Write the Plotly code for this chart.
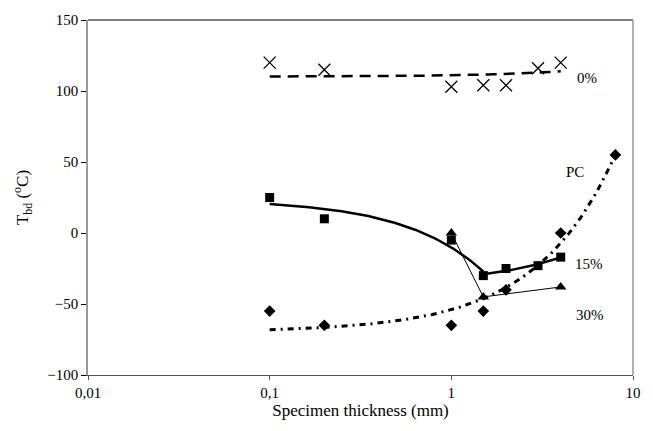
import numpy as np
import plotly.graph_objects as go

# ---- data ----
x_0 = [0.1, 0.2, 1, 1.5, 2, 3, 4]
y_0 = [120, 115, 103, 104, 104, 116, 120]

x_15 = [0.1, 0.2, 1, 1.5, 2, 3, 4]
y_15 = [25, 10, -5, -30, -25, -23, -17]

x_30 = [1, 1.5, 4]
y_30 = [0, -45, -38]

x_pc = [0.1, 0.2, 1, 1.5, 2, 4, 8]
y_pc = [-55, -65, -65, -55, -40, 0, 55]

x_ticks = [0.01, 0.1, 1, 10]
x_ticktext = ["0,01", "0,1", "1", "10"]
y_ticks = [-100, -50, 0, 50, 100, 150]

labels = ["0%", "PC", "15%", "30%"]

FONT = "Liberation Serif"


def linear_trend(xs, ys, lo, hi):
    xs = np.asarray(xs, float)
    ys = np.asarray(ys, float)
    b, a = np.polyfit(xs, ys, 1)
    grid = np.logspace(np.log10(lo), np.log10(hi), 120)
    return grid, a + b * grid


fig = go.Figure()

# 0% trendline (linear fit)
gx, gy = linear_trend(x_0, y_0, min(x_0), max(x_0))
fig.add_trace(go.Scatter(x=gx, y=gy, mode="lines",
                         line=dict(color="black", width=2.5, dash="11px,7px"),
                         showlegend=False, hoverinfo="skip"))

# 15% trendlines (two linear fits)
gx, gy = linear_trend(x_15[:4], y_15[:4], x_15[0], x_15[3])
fig.add_trace(go.Scatter(x=gx, y=gy, mode="lines",
                         line=dict(color="black", width=2.5),
                         showlegend=False, hoverinfo="skip"))
gx, gy = linear_trend(x_15[3:], y_15[3:], x_15[3], x_15[-1])
fig.add_trace(go.Scatter(x=gx, y=gy, mode="lines",
                         line=dict(color="black", width=2.5),
                         showlegend=False, hoverinfo="skip"))

# PC trendline (linear fit)
gx, gy = linear_trend(x_pc, y_pc, min(x_pc), max(x_pc))
fig.add_trace(go.Scatter(x=gx, y=gy, mode="lines",
                         line=dict(color="black", width=3, dash="6px,5px,2px,5px"),
                         showlegend=False, hoverinfo="skip"))

# 30% connected points
fig.add_trace(go.Scatter(x=x_30, y=y_30, mode="lines+markers",
                         line=dict(color="black", width=1),
                         marker=dict(symbol="triangle-up", size=10, color="black"),
                         showlegend=False))

# markers
fig.add_trace(go.Scatter(x=x_0, y=y_0, mode="markers",
                         marker=dict(symbol="x-thin-open", size=12, color="black",
                                     line=dict(color="black", width=1.3)),
                         showlegend=False))
fig.add_trace(go.Scatter(x=x_15, y=y_15, mode="markers",
                         marker=dict(symbol="square", size=9, color="black"),
                         showlegend=False))
fig.add_trace(go.Scatter(x=x_pc, y=y_pc, mode="markers",
                         marker=dict(symbol="diamond", size=9, color="black"),
                         showlegend=False))

# series labels
label_pos = [(0.937, 109), (0.914, 43), (0.948, -22), (0.950, -58)]
for txt, (px, py) in zip(labels, label_pos):
    fig.add_annotation(x=px, xref="paper", y=py, yref="y", text=txt,
                       showarrow=False, font=dict(family=FONT, size=15, color="black"))

# frame: top black, right grey
fig.add_shape(type="line", xref="paper", yref="paper", x0=0, x1=1, y0=1, y1=1,
              line=dict(color="black", width=1))
fig.add_shape(type="line", xref="paper", yref="paper", x0=1, x1=1, y0=0, y1=1,
              line=dict(color="#999999", width=1.5))

fig.update_layout(
    width=653, height=431,
    margin=dict(l=88, r=20, t=14, b=56),
    paper_bgcolor="white", plot_bgcolor="white",
    font=dict(family=FONT, size=15, color="black"),
    xaxis=dict(type="log", range=[-2, 1], tickvals=x_ticks, ticktext=x_ticktext,
               showgrid=False, zeroline=False, showline=True, linecolor="#555555",
               linewidth=1, ticks="outside", ticklen=4, tickcolor="#555555",
               tickfont=dict(family=FONT, size=15),
               title=dict(text="Specimen thickness (mm)", standoff=2,
                          font=dict(family=FONT, size=17))),
    yaxis=dict(range=[-100, 150], tickvals=y_ticks, showgrid=False, zeroline=False,
               showline=True, linecolor="#999999", linewidth=1.5, ticks="outside",
               ticklen=5, tickcolor="black",
               tickfont=dict(family=FONT, size=15),
               title=dict(text="T<sub>bd</sub> (<sup>o</sup>C)", standoff=14,
                          font=dict(family=FONT, size=17))),
)

fig.write_html("out.html")
